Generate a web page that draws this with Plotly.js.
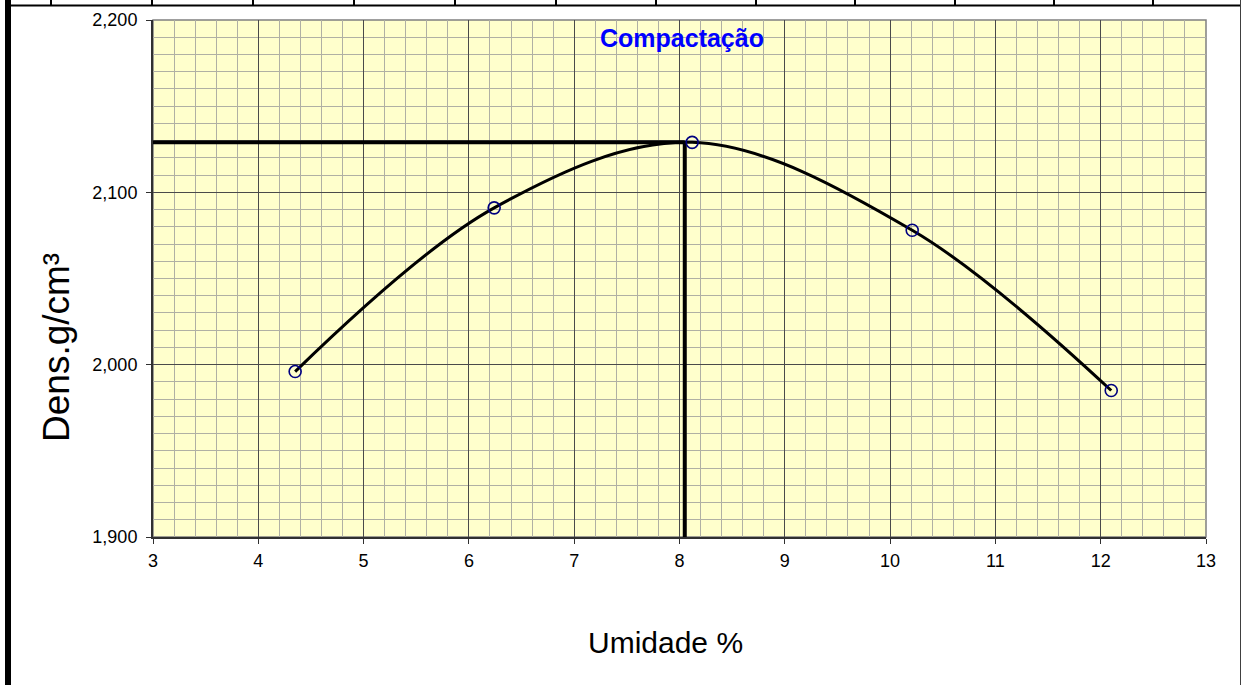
<!DOCTYPE html>
<html>
<head>
<meta charset="utf-8">
<script src="https://cdn.plot.ly/plotly-3.0.1.min.js"></script>
<style>html,body{margin:0;padding:0;background:#fff;}#chart{width:1242px;height:685px;}</style>
</head>
<body>
<div id="chart"></div>
<script>
// ---- data ----
const moisture = [4.35, 6.24, 8.12, 10.21, 12.10];      // Umidade %
const density  = [1.996, 2.091, 2.129, 2.078, 1.985];   // Dens. g/cm³
const optMoisture = 8.05;   // umidade ótima
const maxDensity  = 2.129;  // densidade máxima
const xRange = [3, 13];
const yRange = [1.9, 2.2];
const chartTitle = 'Compactação';
const xTitle = 'Umidade %';
const yTitle = 'Dens.g/cm³';

// ---- layout helpers (pixel -> paper) ----
const W = 1242, H = 685;
const M = {l: 153, r: 36, t: 20, b: 148};
const PW = W - M.l - M.r, PH = H - M.t - M.b;
const px = v => (v - M.l) / PW;
const py = v => (H - M.b - v) / PH;

const FONT = 'Arial, "Liberation Sans", sans-serif';

const traces = [
  {x: [xRange[0], optMoisture], y: [maxDensity, maxDensity], mode: 'lines',
   line: {color: '#000', width: 4}, hoverinfo: 'skip', cliponaxis: false},
  {x: [optMoisture, optMoisture], y: [yRange[0], maxDensity], mode: 'lines',
   line: {color: '#000', width: 4}, hoverinfo: 'skip', cliponaxis: false},
  {x: moisture, y: density, mode: 'lines+markers',
   line: {color: '#000', width: 3, shape: 'spline', smoothing: 1},
   marker: {symbol: 'circle-open', size: 12, color: '#000080', line: {color: '#000080', width: 1.6}}}
];

// decorative frame (table borders around the embedded chart)
const shapes = [];
shapes.push({type: 'rect', xref: 'paper', yref: 'paper', x0: 0, x1: 1, y0: 0, y1: 1,
  line: {color: '#808080', width: 1.5}, layer: 'below'});
shapes.push({type: 'line', xref: 'paper', yref: 'paper', x0: px(5), x1: px(1240), y0: py(5.5), y1: py(5.5),
  line: {color: '#000', width: 2}});
shapes.push({type: 'line', xref: 'paper', yref: 'paper', x0: px(8), x1: px(8), y0: py(0), y1: py(685),
  line: {color: '#000', width: 6}});
shapes.push({type: 'line', xref: 'paper', yref: 'paper', x0: px(1240.5), x1: px(1240.5), y0: py(0), y1: py(685),
  line: {color: '#404040', width: 1}});
[51, 152, 253, 354, 455, 556, 656, 756, 855, 955, 1054, 1153].forEach(xp => {
  shapes.push({type: 'line', xref: 'paper', yref: 'paper', x0: px(xp), x1: px(xp), y0: py(0), y1: py(6),
    line: {color: '#000', width: 2}});
});

const layout = {
  width: W, height: H,
  margin: M,
  paper_bgcolor: '#ffffff',
  plot_bgcolor: '#FFFFCC',
  showlegend: false,
  separators: ',.',
  font: {family: FONT, size: 18, color: '#000'},
  xaxis: {
    range: xRange, dtick: 1, tick0: 3, fixedrange: true,
    showgrid: true, gridcolor: '#4a4a4a', gridwidth: 1,
    minor: {dtick: 0.2, showgrid: true, gridcolor: '#b0b0a4', gridwidth: 1, ticks: ''},
    showline: true, linecolor: '#303030', linewidth: 2,
    ticks: 'outside', ticklen: 5, tickcolor: '#303030', tickwidth: 1,
    zeroline: false, tickfont: {family: FONT, size: 18}, ticklabelstandoff: 1
  },
  yaxis: {
    range: yRange, dtick: 0.1, tick0: 1.9, fixedrange: true, tickformat: ',.3f',
    showgrid: true, gridcolor: '#4a4a4a', gridwidth: 1,
    minor: {dtick: 0.01, showgrid: true, gridcolor: '#b0b0a4', gridwidth: 1, ticks: ''},
    showline: true, linecolor: '#303030', linewidth: 2,
    ticks: 'outside', ticklen: 5, tickcolor: '#303030', tickwidth: 1,
    zeroline: false, tickfont: {family: FONT, size: 18}, ticklabelstandoff: 5
  },
  shapes: shapes,
  annotations: [
    {text: '<b>' + chartTitle + '</b>', xref: 'paper', yref: 'paper', x: px(682), y: py(38),
     showarrow: false, font: {family: FONT, size: 25, color: '#0000FF'}, xanchor: 'center', yanchor: 'middle'},
    {text: xTitle, xref: 'paper', yref: 'paper', x: px(665), y: py(642),
     showarrow: false, font: {family: FONT, size: 30, color: '#000'}, xanchor: 'center', yanchor: 'middle'},
    {text: yTitle, xref: 'paper', yref: 'paper', x: px(56), y: py(348), textangle: -90,
     showarrow: false, font: {family: FONT, size: 37, color: '#000'}, xanchor: 'center', yanchor: 'middle'}
  ]
};

Plotly.newPlot('chart', traces, layout, {displayModeBar: false, staticPlot: true});
</script>
</body>
</html>
